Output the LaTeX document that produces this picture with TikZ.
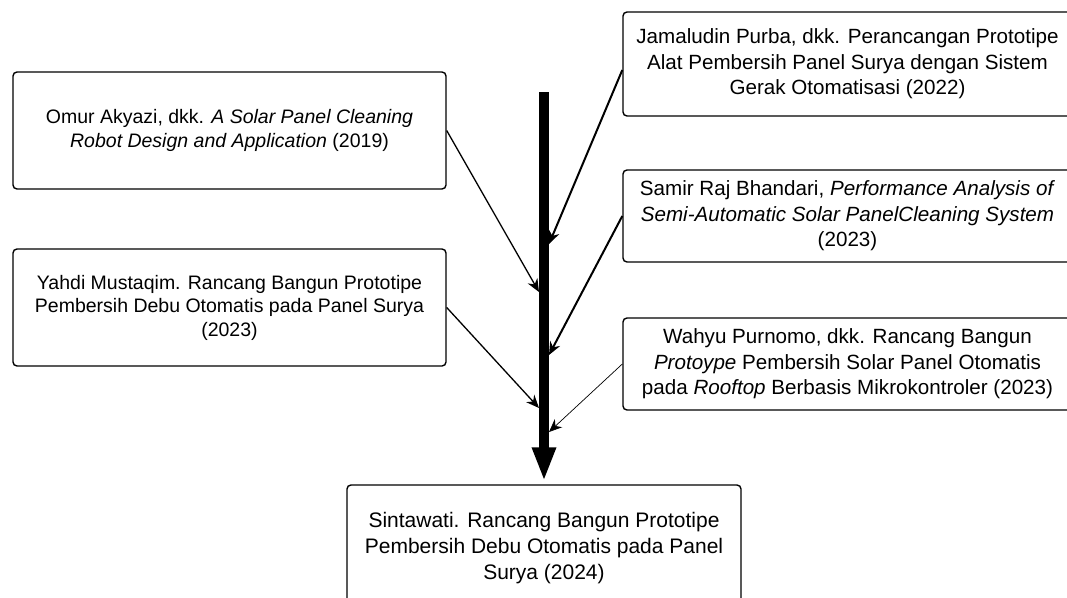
\documentclass[tikz,border=0pt]{standalone}
\usepackage{fontspec}
\setmainfont{Liberation Sans}
\usetikzlibrary{arrows.meta}

\begin{document}
\begin{tikzpicture}[x=1pt, y=-1pt, >={Stealth[length=13pt, width=11pt]},
    ref/.style={draw, rounded corners=4pt, line width=1.4pt, align=center, inner sep=0pt},
    small/.style={font=\fontsize{19.5}{23.5}\selectfont},
    mid/.style={font=\fontsize{20.6}{25.6}\selectfont},
    big/.style={font=\fontsize{21}{26}\selectfont}]
    \useasboundingbox (0,0) rectangle (1067,597);
    \clip (0,0) rectangle (1067,597);

    % left column
    \node[ref, small, minimum width=433pt, minimum height=117pt] at (229.5,130.5) (akyazi)
        {Omur Akyazi, dkk. \textit{A Solar Panel Cleaning}\\ \textit{Robot Design and Application} (2019)};
    \node[ref, small, minimum width=433pt, minimum height=117pt] at (229.5,307.5) (mustaqim)
        {Yahdi Mustaqim. Rancang Bangun Prototipe\\ Pembersih Debu Otomatis pada Panel Surya\\ (2023)};

    % right column
    \node[ref, mid, minimum width=449pt, minimum height=104pt] at (847.5,64) (purba)
        {Jamaludin Purba, dkk. Perancangan Prototipe\\ Alat Pembersih Panel Surya dengan Sistem\\ Gerak Otomatisasi (2022)};
    \node[ref, mid, minimum width=449pt, minimum height=92pt] at (847.5,216) (bhandari)
        {Samir Raj Bhandari, \textit{Performance Analysis of}\\ \textit{Semi-Automatic Solar PanelCleaning System}\\ (2023)};
    \node[ref, mid, minimum width=449pt, minimum height=92pt] at (847.5,364) (purnomo)
        {Wahyu Purnomo, dkk. Rancang Bangun\\ \textit{Protoype} Pembersih Solar Panel Otomatis\\ pada \textit{Rooftop} Berbasis Mikrokontroler (2023)};

    % result
    \node[ref, big, minimum width=394pt, minimum height=126pt] at (544,548) (sintawati)
        {Sintawati. Rancang Bangun Prototipe\\ Pembersih Debu Otomatis pada Panel\\ Surya (2024)};

    % main line
    \coordinate (top) at (544,92);
    \draw[line width=10pt, -{Triangle[length=34pt, width=22pt]}, shorten >=3pt] (top) -- (sintawati.north);

    % points on the main line
    \coordinate (j akyazi) at (539,292);
    \coordinate (j purba) at (549,244);
    \coordinate (j bhandari) at (549,355);
    \coordinate (j mustaqim) at (539,408);
    \coordinate (j purnomo) at (549,432);

    \draw[->, line width=1.3pt] (akyazi.east) -- (j akyazi);
    \draw[->, line width=1.3pt] (mustaqim.east) -- (j mustaqim);
    \draw[->, line width=2pt] ([yshift=-6pt]purba.west) -- (j purba);
    \draw[->, line width=2pt] (bhandari.west) -- (j bhandari);
    \draw[->, line width=0.7pt] (purnomo.west) -- (j purnomo);
\end{tikzpicture}
\end{document}
